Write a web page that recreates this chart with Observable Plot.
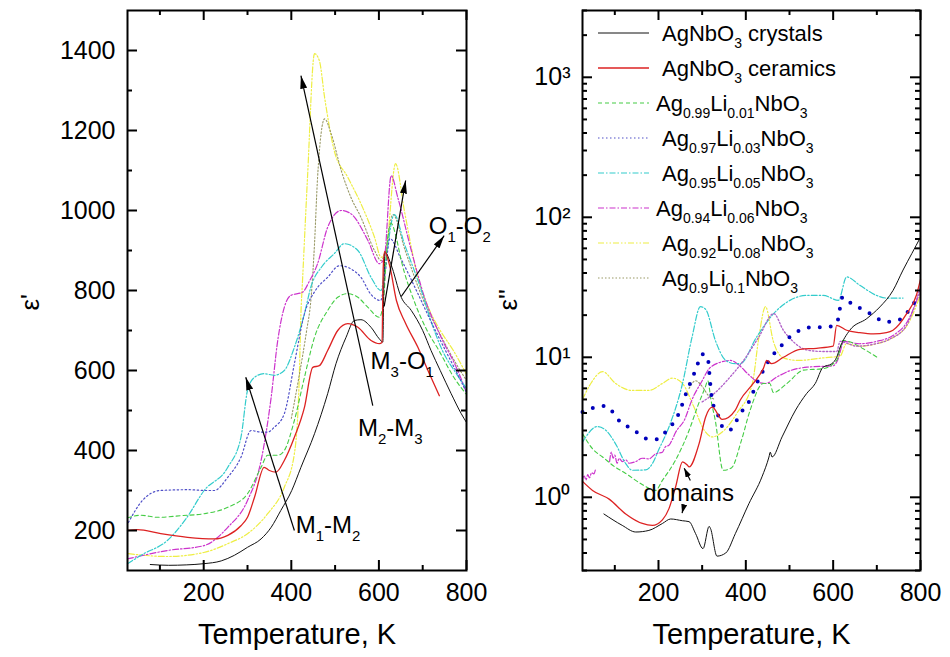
<!DOCTYPE html>
<html><head><meta charset="utf-8">
<script src="https://cdn.jsdelivr.net/npm/d3@7"></script>
<script src="https://cdn.jsdelivr.net/npm/@observablehq/plot@0.6"></script>
<style>
html,body{margin:0;padding:0;background:#fff;}
#fig{position:relative;width:950px;height:657px;overflow:hidden;background:#fff;}
#fig svg{position:absolute;top:0;overflow:visible;}
</style></head>
<body><div id="fig"></div>
<script>
const FONT = "'Liberation Sans', Arial, sans-serif";

// ---------- axis ticks ----------
const xMajor = [200, 400, 600, 800];
const xMinor = [100, 300, 500, 700];
const epsMajor = [200, 400, 600, 800, 1000, 1200, 1400];
const epsMinor = [300, 500, 700, 900, 1100, 1300];
const lossMajor = [1, 10, 100, 1000];
const lossMinor = [0.3,0.4,0.5,0.6,0.7,0.8,0.9, 2,3,4,5,6,7,8,9, 20,30,40,50,60,70,80,90, 200,300,400,500,600,700,800,900, 2000,3000];
const superDigits = ["\u2070", "\u00b9", "\u00b2", "\u00b3"];

// ---------- series names / legend ----------
const legendLabels = ["AgNbO_{3} crystals", "AgNbO_{3} ceramics", "Ag_{0.99}Li_{0.01}NbO_{3}", "Ag_{0.97}Li_{0.03}NbO_{3}",
  "Ag_{0.95}Li_{0.05}NbO_{3}", "Ag_{0.94}Li_{0.06}NbO_{3}", "Ag_{0.92}Li_{0.08}NbO_{3}", "Ag_{0.9}Li_{0.1}NbO_{3}"];
const seriesColors = ["#111111", "#dd2222", "#44cc44", "#5050c8", "#33cccc", "#cc33cc", "#eeee44", "#999966"];
const seriesDash = [null, null, "4 3", "1.5 2.5", "6 2 1.5 2", "6 2 1.5 2", "6 2 1.5 2 1.5 2", "1.5 2"];
const seriesWidth = [1, 1.3, 1.1, 1.2, 1.2, 1.2, 1.2, 1.1];

// ---------- left panel: eps' (T in K, value) ----------
const epsCrystals = [[78,115],[120,113],[160,114],[200,117],[240,124],[270,138],[300,158],[331,179],[354,208],[376,250],[401,300],[422,358],[453,442],[483,542],[502,617],[525,683],[544,725],[559,727],[582,708],[601,679],[609,671],[611,800],[614,896],[627,867],[651,783],[674,750],[700,700],[719,650],[740,600],[765,542],[788,492],[800,470]];
const epsCeramics = [[26,200],[49,202],[102,192],[163,183],[224,179],[255,188],[285,212],[300,233],[316,283],[338,358],[350,350],[365,346],[384,375],[407,433],[430,508],[449,608],[464,612],[483,650],[506,700],[529,717],[552,708],[582,675],[601,667],[607,670],[610,860],[613,897],[625,860],[640,775],[660,720],[689,658],[712,600],[738,537]];
const eps099 = [[26,232],[56,238],[95,233],[148,237],[201,242],[255,258],[300,292],[331,358],[346,388],[369,388],[384,400],[407,475],[430,583],[453,683],[483,750],[506,783],[529,792],[552,783],[575,758],[601,733],[610,770],[620,930],[628,968],[640,930],[651,875],[680,775],[710,700],[737,650],[771,583],[800,540]];
const eps097 = [[28,220],[60,275],[101,300],[163,302],[209,300],[224,300],[255,333],[285,383],[308,450],[331,446],[346,446],[361,458],[384,492],[407,617],[430,742],[455,800],[483,833],[510,862],[536,854],[559,833],[582,790],[604,775],[615,850],[625,930],[650,880],[690,790],[720,720],[752,650],[780,590],[800,545]];
const eps095 = [[26,117],[60,140],[117,175],[160,230],[201,300],[255,358],[285,433],[300,550],[316,583],[338,592],[361,588],[384,600],[407,658],[430,742],[445,810],[470,860],[498,892],[521,917],[552,900],[582,833],[605,800],[615,870],[635,990],[658,917],[697,800],[720,720],[745,650],[775,595],[800,555]];
const eps094 = [[26,129],[117,150],[200,162],[255,208],[300,275],[331,375],[354,533],[369,675],[384,758],[398,787],[426,796],[442,825],[460,867],[483,958],[514,1000],[536,992],[575,925],[601,867],[612,880],[628,1087],[643,1033],[674,900],[704,783],[742,683],[780,600],[800,545]];
const eps092 = [[28,142],[117,135],[200,145],[255,167],[300,192],[346,242],[384,308],[407,392],[418,575],[422,742],[426,833],[437,1083],[453,1392],[464,1375],[476,1283],[498,1150],[529,1083],[559,1017],[590,933],[605,883],[616,900],[638,1117],[658,1000],[689,833],[712,760],[740,700],[770,650],[800,590]];
const eps090 = [[400,480],[420,600],[435,700],[445,780],[453,917],[460,1083],[476,1229],[491,1192],[514,1100],[536,1033],[559,983],[590,900],[605,875],[615,900],[632,990],[660,900],[700,780],[740,690],[780,610],[800,575]];

// ---------- right panel: eps'' (T in K, value) ----------
const lossCrystals = [[75,0.76],[117,0.63],[148,0.565],[178,0.58],[209,0.65],[228,0.70],[255,0.68],[270,0.67],[285,0.55],[302,0.43],[316,0.62],[319,0.60],[334,0.38],[354,0.40],[376,0.55],[407,0.9],[437,1.4],[453,1.94],[456,2.1],[460,1.94],[483,2.7],[514,4.2],[539,5.5],[559,6.5],[577,8.5],[597,9.0],[608,10],[616,11.8],[638,15.6],[677,18.9],[707,22.9],[737,30],[760,42],[780,55],[800,72]];
const lossCeramics = [[26,1.3],[49,1.12],[87,0.97],[125,0.76],[163,0.65],[186,0.63],[209,0.69],[224,0.83],[239,1.18],[255,1.79],[266,1.7],[270,1.65],[293,2.42],[308,3.75],[323,4.4],[346,3.6],[376,4.2],[387,4.93],[417,6.5],[440,8.3],[448,9.5],[459,9.0],[486,10],[524,11.4],[562,11.6],[600,12],[608,16.9],[631,15.6],[661,15],[692,14.7],[722,15],[737,15.6],[768,20.4],[791,28],[800,36]];
const loss099 = [[26,2.85],[50,2.2],[72,1.94],[100,1.65],[125,1.48],[160,1.25],[193,1.12],[209,1.32],[239,1.84],[270,3.0],[290,4.5],[307,6.1],[313,6.8],[320,5],[330,3.55],[348,1.56],[367,1.62],[390,2.55],[410,4.2],[440,6.5],[455,6.5],[463,5.6],[494,6.5],[532,8.1],[577,8.3],[608,9.5],[623,13.2],[638,12.9],[669,11.5],[703,9.9]];
const loss097 = [[26,4.07],[56,4.4],[79,4.5],[98,3.97],[114,3.4],[140,3.1],[163,2.7],[178,2.6],[197,2.6],[209,2.8],[228,3.2],[247,4.0],[262,5.4],[285,8.1],[300,10.5],[312,10.2],[319,6.3],[323,4.9],[335,3.97],[346,3.2],[361,3.0],[376,3.4],[387,3.96],[402,4.5],[429,6.9],[459,10.1],[478,11.8],[501,14],[528,15.8],[551,16.4],[585,16.4],[608,17.4],[622,27],[646,23.5],[673,21.7],[696,19.4],[722,17.9],[753,18.6],[775,22],[791,26]];
const loss095 = [[26,2.48],[60,3.2],[80,3.0],[102,2.4],[125,1.74],[140,1.56],[171,1.57],[186,1.74],[201,2.2],[224,3.18],[255,6.5],[277,14],[296,23],[308,22],[331,13],[354,9.5],[376,9.0],[387,9.0],[425,14],[463,20.4],[501,25.5],[539,27.7],[577,27.7],[612,25.5],[631,37.5],[661,32.7],[699,27.7],[722,26.5],[760,26.5]];
const loss094 = [[26,1.36],[30,1.42],[34,1.33],[38,1.45],[42,1.38],[47,1.5],[52,1.47],[56,1.6],[62,NaN],[88,1.8],[92,2.1],[96,1.9],[100,2.0],[105,1.75],[110,1.9],[117,1.8],[125,1.85],[133,1.75],[148,1.8],[163,1.9],[178,1.88],[194,2.05],[209,2.1],[216,2.3],[224,2.35],[232,2.6],[239,2.9],[260,3.6],[277,5.0],[300,6.8],[316,8.3],[346,9.3],[365,9.5],[384,8.8],[407,7.5],[430,6.6],[445,6.5],[470,7.2],[500,8.0],[540,8.5],[600,8.7],[610,9.5],[625,13],[660,12.5],[700,13],[740,14.5],[770,18],[800,30]];
const loss092 = [[26,5.0],[45,6.5],[72,7.9],[102,6.5],[140,5.8],[178,5.8],[209,6.5],[232,7.1],[255,6.5],[280,4.5],[305,3.0],[323,2.7],[350,3.0],[380,4.0],[415,6.5],[430,14],[445,23],[463,13],[486,9.9],[520,9.5],[577,9.9],[616,10.2],[630,12.5],[660,12],[700,12.5],[740,14],[770,17],[800,28]];
const loss090 = [[270,6.0],[285,6.8],[300,6.2],[315,5.3],[330,5.0]];
const lossExtraDotted = [[300,4.8],[330,5.6],[360,7.0],[400,10],[430,14],[464,20.5],[486,15.6],[509,12.9],[539,11.3],[577,11],[608,11],[616,13],[631,12.6],[654,12],[692,12.4],[730,13.5],[768,16.9],[800,32]];

// ---------- annotations ----------
const annLeftLabels = ["M_{1}-M_{2}", "M_{2}-M_{3}", "M_{3}-O_{1}", "O_{1}-O_{2}"];
const annLeftT = [410, 552, 581, 714];
const annLeftV = [212, 455, 622, 960];
const arrLeftT1 = [407, 586, 612, 651];
const arrLeftV1 = [200, 512, 760, 785];
const arrLeftT2 = [296, 422, 661, 749];
const arrLeftV2 = [583, 1337, 1075, 937];
const annRightLabels = ["domains"];
const annRightT = [165];
const annRightV = [1.07];
const arrRightT1 = [273, 259];
const arrRightV1 = [1.32, 0.89];
const arrRightT2 = [259, 254];
const arrRightV2 = [1.61, 0.77];

// ---------- helpers ----------
function headMarker(len, wid) {
  return (color, context) => {
    const doc = (context && context.document) || document;
    const ns = "http://www.w3.org/2000/svg";
    const m = doc.createElementNS(ns, "marker");
    m.setAttribute("viewBox", `0 ${-wid/2} ${len} ${wid}`);
    m.setAttribute("markerWidth", len);
    m.setAttribute("markerHeight", wid);
    m.setAttribute("markerUnits", "userSpaceOnUse");
    m.setAttribute("refX", len);
    m.setAttribute("refY", 0);
    m.setAttribute("orient", "auto");
    const p = doc.createElementNS(ns, "path");
    p.setAttribute("d", `M0,${-wid/2}L${len},0L0,${wid/2}Z`);
    p.setAttribute("fill", "black");
    p.setAttribute("stroke", "none");
    m.appendChild(p);
    return m;
  };
}

function richify(root, size) {
  d3.select(root).selectAll("text").each(function() {
    const raw = this.textContent;
    if (!raw.includes("_{")) return;
    const t = d3.select(this).text(null);
    const shift = Math.round(size * 0.32);
    let down = false;
    raw.split(/(_\{[^}]*\})/).filter(Boolean).forEach(part => {
      const m = part.match(/^_\{(.*)\}$/);
      if (m) {
        t.append("tspan").attr("dy", down ? 0 : shift).attr("font-size", Math.round(size * 0.62)).text(m[1]);
        down = true;
      } else {
        t.append("tspan").attr("dy", down ? -shift : 0).text(part);
        down = false;
      }
    });
  });
}

function lineMarks(list, order) {
  return order.map(i => Plot.line(list[i], {
    x: d => d[0], y: d => d[1], curve: "monotone-x",
    stroke: seriesColors[i], strokeWidth: seriesWidth[i], strokeDasharray: seriesDash[i],
    strokeLinejoin: "round"
  }));
}

// frame, tick labels and inward ticks on all four sides
function frameAxes(yMajor, yMinor, yFmt, fw, fh) {
  const M = 10, m = 5, sw = 2;
  return [
    Plot.frame({stroke: "black", strokeWidth: 2}),
    Plot.axisX({anchor: "bottom", ticks: xMajor, tickSize: 0, tickPadding: 13, tickFormat: "d", fontSize: 25, label: null, fill: "black"}),
    Plot.axisY({anchor: "left", ticks: yMajor, tickSize: 0, tickPadding: 12, tickFormat: yFmt, fontSize: 25, label: null, fill: "black"}),
    Plot.tickX(xMajor, {x: d => d, insetTop: fh - M, stroke: "black", strokeWidth: sw}),
    Plot.tickX(xMinor, {x: d => d, insetTop: fh - m, stroke: "black", strokeWidth: sw}),
    Plot.tickX(xMajor, {x: d => d, insetBottom: fh - M, stroke: "black", strokeWidth: sw}),
    Plot.tickX(xMinor, {x: d => d, insetBottom: fh - m, stroke: "black", strokeWidth: sw}),
    Plot.tickY(yMajor, {y: d => d, insetRight: fw - M, stroke: "black", strokeWidth: sw}),
    Plot.tickY(yMinor, {y: d => d, insetRight: fw - m, stroke: "black", strokeWidth: sw}),
    Plot.tickY(yMajor, {y: d => d, insetLeft: fw - M, stroke: "black", strokeWidth: sw}),
    Plot.tickY(yMinor, {y: d => d, insetLeft: fw - m, stroke: "black", strokeWidth: sw})
  ];
}

const fig = d3.select("#fig");
const BASE = {width: 475, height: 657, marginTop: 10, marginBottom: 87,
  style: {background: "transparent", overflow: "visible", fontFamily: FONT, color: "black"}};
const LEFT = {...BASE, marginLeft: 127, marginRight: 9};
const RIGHT = {...BASE, marginLeft: 107, marginRight: 30};
const leftX = {domain: [26, 800]}, leftY = {domain: [100, 1500]};
const rightX = {domain: [26, 800]}, rightY = {type: "log", domain: [0.3, 3000]};

// ---------- left panel: data layer (no implicit axes) + frame/annotation layer ----------
const leftData = [epsCrystals, epsCeramics, eps099, eps097, eps095, eps094, eps092, eps090];
const leftLines = Plot.plot({...LEFT, x: {...leftX, axis: null}, y: {...leftY, axis: null},
  marks: lineMarks(leftData, [6, 7, 5, 4, 3, 2, 0, 1])});
const leftAxes = Plot.plot({...LEFT, x: leftX, y: leftY, marks: [
  ...frameAxes(epsMajor, epsMinor, "d", 475 - 127 - 9, 657 - 10 - 87),
  Plot.link(d3.range(arrLeftT1.length), {
    x1: i => arrLeftT1[i], y1: i => arrLeftV1[i], x2: i => arrLeftT2[i], y2: i => arrLeftV2[i],
    stroke: "black", strokeWidth: 1.2, markerEnd: headMarker(13, 7)
  }),
  Plot.text(d3.range(annLeftLabels.length), {
    x: i => annLeftT[i], y: i => annLeftV[i], text: i => annLeftLabels[i],
    textAnchor: "start", fontSize: 24, fill: "black"
  }),
  Plot.text(["Temperature, K"], {frameAnchor: "bottom", dy: 73, text: d => d, fontSize: 29, fill: "black"}),
  Plot.text(["\u03b5'"], {frameAnchor: "left", dx: -97, dy: 20, rotate: -90, text: d => d, fontSize: 26, fill: "black"})
]});

// ---------- right panel: data layer (no implicit axes) + frame/annotation layer ----------
const rightData = [lossCrystals, lossCeramics, loss099, loss097, loss095, loss094, loss092, loss090];
const rightLines = Plot.plot({...RIGHT, x: {...rightX, axis: null}, y: {...rightY, axis: null}, marks: [
  ...lineMarks(rightData, [6, 7, 5, 4, 2]),
  Plot.line(lossExtraDotted, {x: d => d[0], y: d => d[1], curve: "monotone-x", stroke: "#b060c8", strokeWidth: 1.3, strokeDasharray: "1.5 2"}),
  Plot.line(loss097, {x: d => d[0], y: d => d[1], curve: "monotone-x", stroke: "#0000bb", strokeWidth: 4, strokeDasharray: "0 11", strokeLinecap: "round"}),
  ...lineMarks(rightData, [0, 1])
]});
const rightAxes = Plot.plot({...RIGHT, x: rightX, y: rightY, marks: [
  ...frameAxes(lossMajor, lossMinor, d => "10" + superDigits[Math.round(Math.log10(d))], 475 - 107 - 30, 657 - 10 - 87),
  Plot.link(d3.range(arrRightT1.length), {
    x1: i => arrRightT1[i], y1: i => arrRightV1[i], x2: i => arrRightT2[i], y2: i => arrRightV2[i],
    stroke: "black", strokeWidth: 1.2, markerEnd: headMarker(9, 6)
  }),
  Plot.text(d3.range(annRightLabels.length), {
    x: i => annRightT[i], y: i => annRightV[i], text: i => annRightLabels[i],
    textAnchor: "start", fontSize: 24, fill: "black"
  }),
  Plot.text(["Temperature, K"], {frameAnchor: "bottom", dy: 73, text: d => d, fontSize: 29, fill: "black"}),
  Plot.text(["\u03b5''"], {frameAnchor: "left", dx: -74, dy: 20, rotate: -90, text: d => d, fontSize: 26, fill: "black"})
]});

[rightLines, rightAxes].forEach(s => { d3.select(s).style("left", "475px"); fig.node().appendChild(s); });
[leftLines, leftAxes].forEach(s => { d3.select(s).style("left", "0px"); fig.node().appendChild(s); });
richify(leftAxes, 24);
richify(rightAxes, 24);

// ---------- legend (inside right panel) ----------
const legendY = [33, 68, 103, 138, 173, 208, 243, 278];
const legendTextX = [662, 662, 656, 662, 662, 656, 662, 662];
const leg = fig.append("svg").attr("width", 950).attr("height", 657)
  .style("left", "0px").style("pointer-events", "none")
  .attr("font-family", FONT);
legendLabels.forEach((lab, i) => {
  leg.append("line").attr("x1", 598).attr("x2", 649).attr("y1", legendY[i]).attr("y2", legendY[i])
    .attr("stroke", seriesColors[i]).attr("stroke-width", seriesWidth[i])
    .attr("stroke-dasharray", seriesDash[i]);
  leg.append("text").attr("x", legendTextX[i]).attr("y", legendY[i] + 8)
    .attr("font-size", 22).attr("fill", "black").text(lab);
});
richify(leg.node(), 22);
</script>
</body></html>
